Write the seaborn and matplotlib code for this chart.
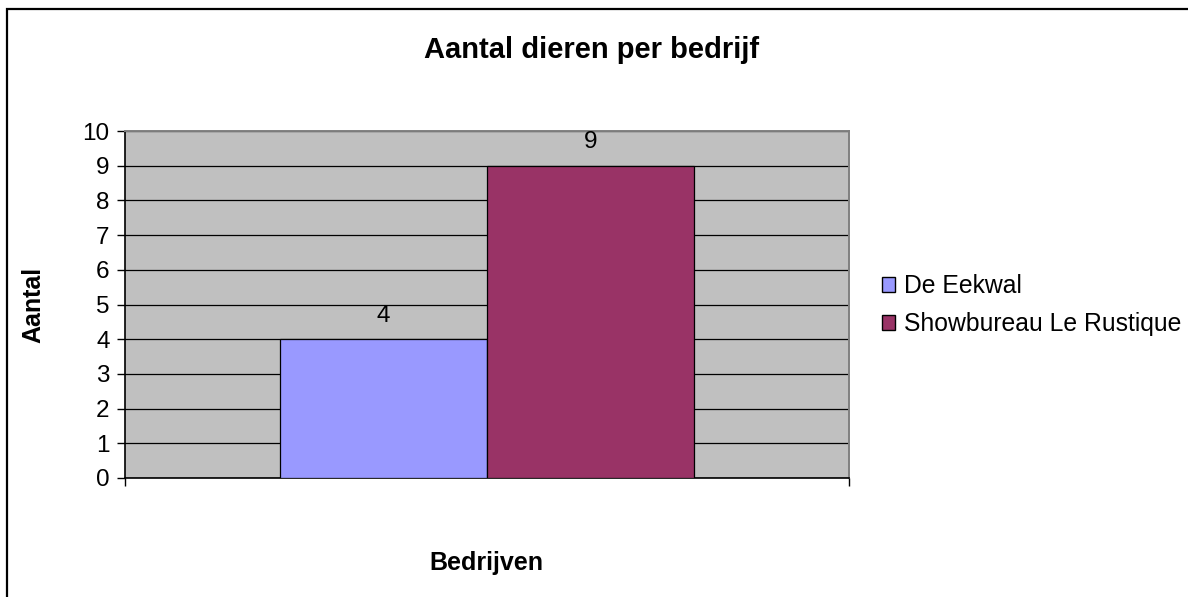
import matplotlib
matplotlib.use("Agg")
import matplotlib.pyplot as plt
import seaborn as sns
import pandas as pd
from matplotlib.patches import Rectangle

# Data
companies = ["De Eekwal", "Showbureau Le Rustique"]
counts = [4, 9]
group = ["Bedrijven", "Bedrijven"]
yticks = list(range(0, 11))
colors = ["#9999FF", "#993366"]

title = "Aantal dieren per bedrijf"
xlabel = "Bedrijven"
ylabel = "Aantal"

sns.set_theme(style="white")
plt.rcParams['font.family'] = ['Liberation Sans', 'DejaVu Sans']
plt.rcParams['text.color'] = 'black'
plt.rcParams['axes.labelcolor'] = 'black'
plt.rcParams['xtick.color'] = 'black'
plt.rcParams['ytick.color'] = 'black'

FS = 17.5

W, H = 1188, 597
fig = plt.figure(figsize=(W / 100, H / 100), dpi=100)
fig.patch.set_facecolor("white")

L, R, T, B = 125, 849, 131, 478
ax = fig.add_axes([L / W, 1 - B / H, (R - L) / W, (B - T) / H])
ax.set_facecolor("#C0C0C0")

df = pd.DataFrame({"grp": group, "company": companies, "count": counts})
sns.barplot(data=df, x="grp", y="count", hue="company", palette=colors,
            width=0.572, edgecolor="black", linewidth=0.9, ax=ax,
            legend=False, zorder=3, saturation=1)

ax.set_ylim(0, 10)
ax.set_xlim(-0.5, 0.5)
ax.set_yticks(yticks)
ax.set_yticklabels([str(t) for t in yticks])
ax.set_xticks([-0.5, 0.5])
ax.set_xticklabels(["", ""])
ax.yaxis.grid(True, color="black", linewidth=0.9, zorder=1)
ax.set_axisbelow(True)
ax.tick_params(axis="y", direction="out", length=6, width=1.0, color="black",
               labelsize=FS, labelcolor="black", pad=5, left=True)
ax.tick_params(axis="x", direction="out", length=6, width=1.0, color="black",
               bottom=True)
for s in ["left", "bottom"]:
    ax.spines[s].set_color("black")
    ax.spines[s].set_linewidth(1.2)
for s in ["top", "right"]:
    ax.spines[s].set_color("#808080")
    ax.spines[s].set_linewidth(1.4)

# Data labels
for cont in ax.containers:
    ax.bar_label(cont, labels=[f"{int(v)}" for v in cont.datavalues],
                 padding=9, fontsize=FS, color="black")

ax.set_xlabel("")
ax.set_ylabel("")
fig.text(486 / W, 1 - 563 / H, xlabel, ha="center", va="center",
         fontsize=18, fontweight="bold", color="black")
fig.text(33 / W, 1 - 305 / H, ylabel, ha="center", va="center",
         rotation=90, fontsize=18, fontweight="bold", color="black")
fig.text(592 / W, 1 - 50 / H, title, ha="center", va="center",
         fontsize=21, fontweight="bold", color="black")

# Legend
handles = [Rectangle((0, 0), 1, 1, facecolor=c, edgecolor="black", linewidth=1.0)
           for c in colors]
fig.legend(handles, companies, loc="center left",
           bbox_to_anchor=(872 / W, 1 - 305 / H), frameon=False,
           fontsize=17.8, handlelength=0.55, handleheight=0.55, handletextpad=0.35,
           labelspacing=0.55, borderaxespad=0)

# Outer border
fig.patches.append(Rectangle((6.5 / W, -0.1), 1.2, 1 - 8.5 / H + 0.1,
                             transform=fig.transFigure, fill=False,
                             edgecolor="black", linewidth=1.6))

fig.savefig("out.png", dpi=100)
